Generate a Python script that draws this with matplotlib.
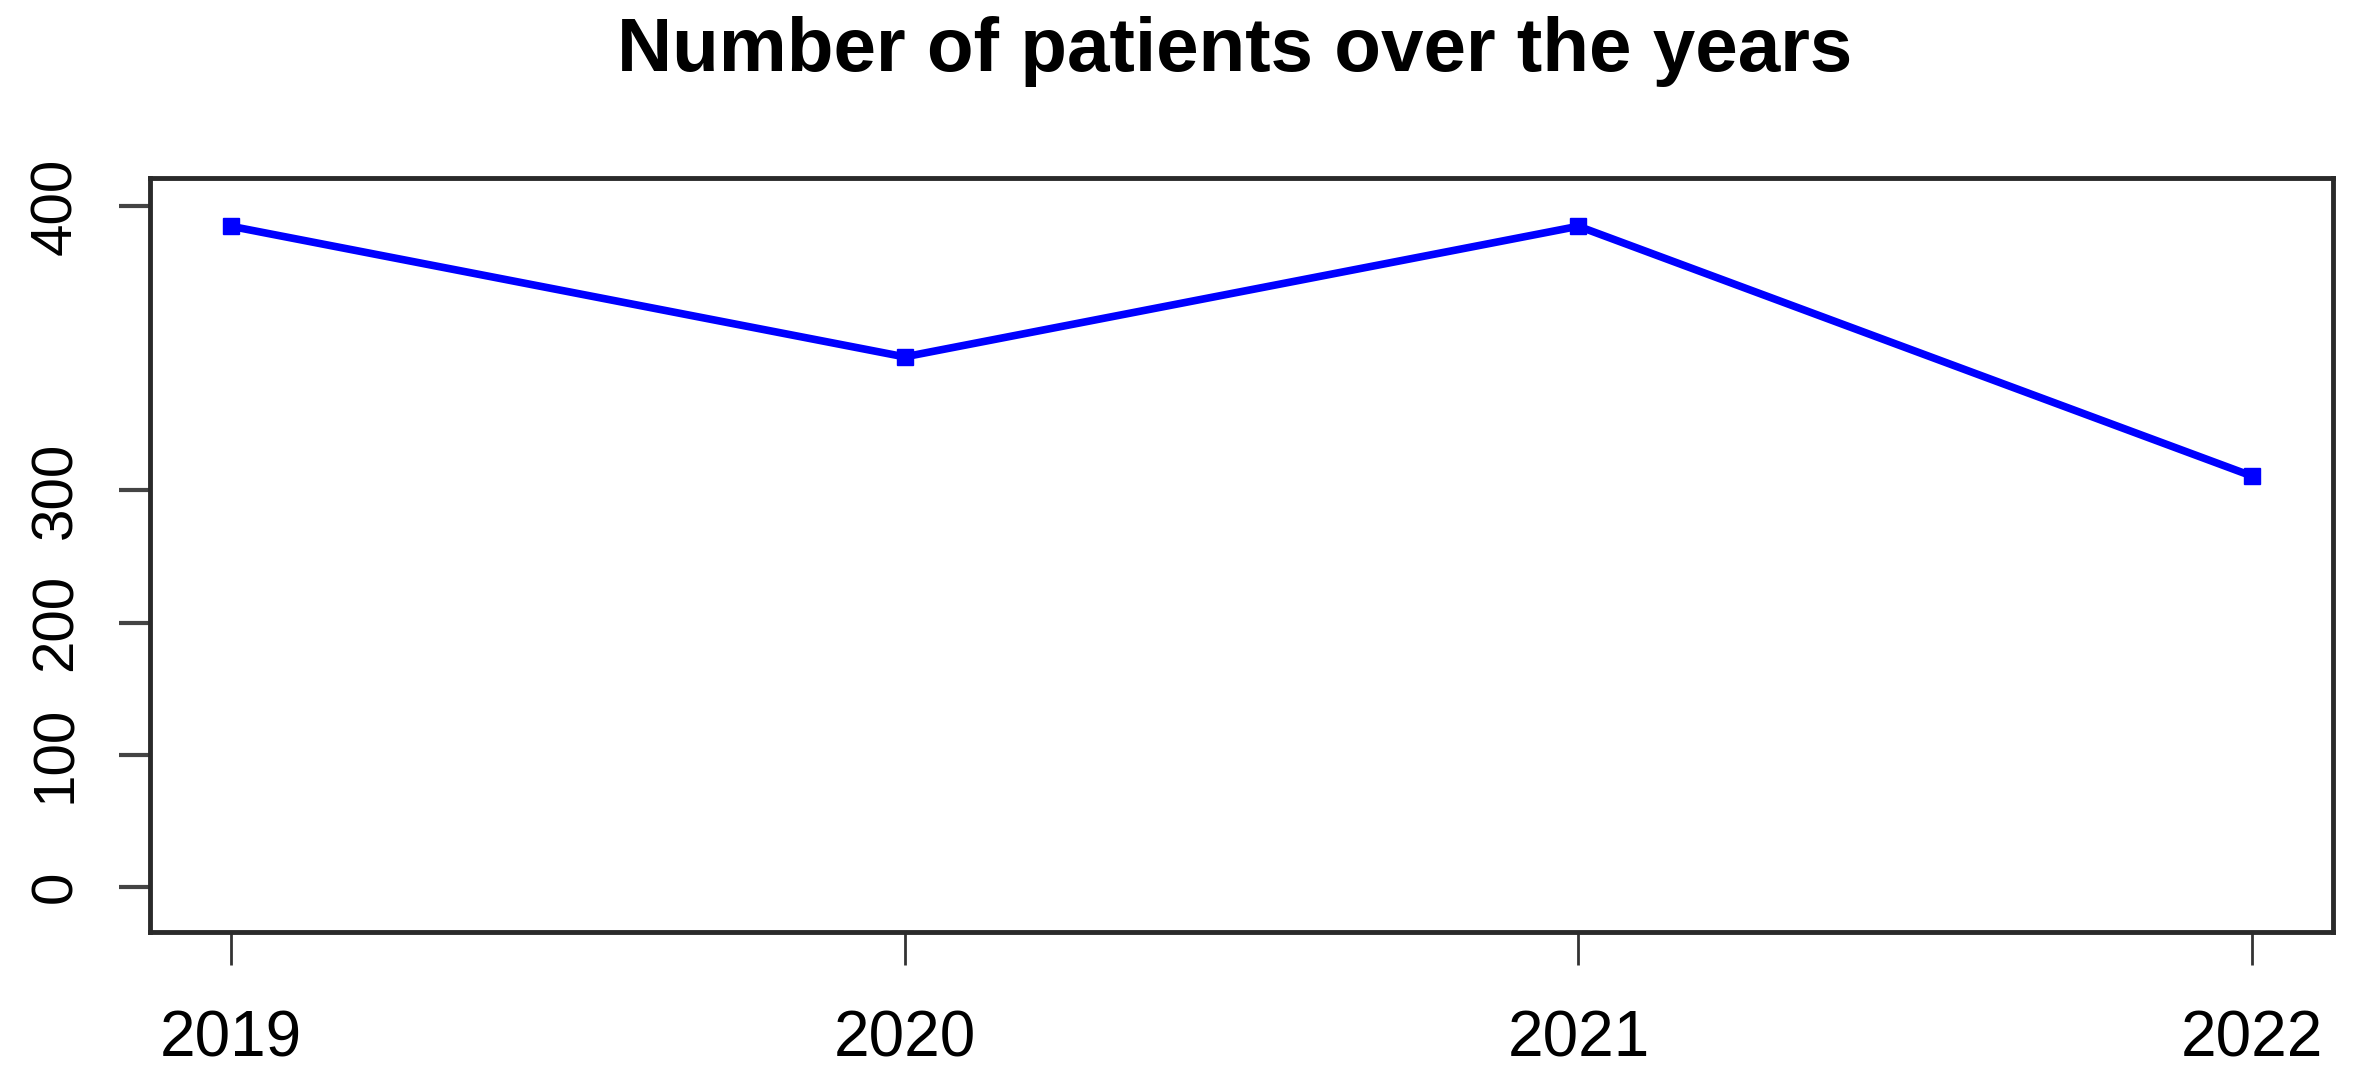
import numpy as np
import matplotlib.pyplot as plt

# 연도별 환자 수
years = [2019, 2020, 2021, 2022]
patients = [393, 347, 393, 305]
ytick_values = [0, 100, 200, 300, 400]
ytick_labels = ['0', '100', '200', '300', '400']

# y축: 300 이상 구간이 늘어나 있음
def forward(y):
    y = np.asarray(y, dtype=float)
    return np.where(y <= 300, y, 300 + (y - 300) * 2.147)

def inverse(t):
    t = np.asarray(t, dtype=float)
    return np.where(t <= 300, t, 300 + (t - 300) / 2.147)

plt.rcParams['font.family'] = ['Liberation Sans', 'DejaVu Sans']

fig = plt.figure(figsize=(23.57, 10.75), dpi=100)
ax = fig.add_axes([150 / 2357, 1 - 932 / 1075, (2333 - 150) / 2357, (932 - 178) / 1075])

ax.plot(years, patients, color='#0000ff', linewidth=5.5, marker='s', markersize=12)

ax.set_yscale('function', functions=(forward, inverse))
ax.set_ylim(-34, 410)
ax.set_xlim(2018.88, 2022.12)

ax.set_xticks(years)
ax.set_xticklabels([str(y) for y in years], fontsize=46)
ax.set_yticks(ytick_values)
ax.set_yticklabels(ytick_labels, fontsize=42, rotation=90, va='center')
ax.minorticks_off()

ax.tick_params(axis='x', length=24, width=2, pad=32, color='#333333')
ax.tick_params(axis='y', length=22, width=3, pad=26, color='#444444')
for s in ax.spines.values():
    s.set_linewidth(3.5)
    s.set_color('#2a2a2a')

fig.suptitle('Number of patients over the years', fontsize=55, fontweight='bold',
             x=(150 + 2333) / 2 / 2357 - 0.003, y=1 - 16 / 1075, va='top')

fig.savefig('out.png', dpi=100)
